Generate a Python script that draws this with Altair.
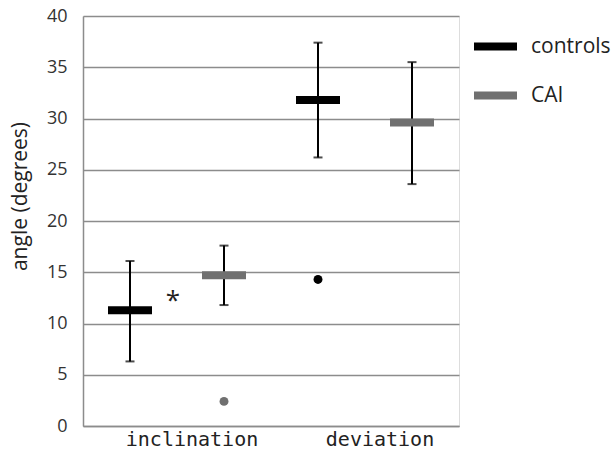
import altair as alt
import pandas as pd

categories = ["inclination", "deviation"]
groups = ["controls", "CAI"]

controls_mean = [11.3, 31.8]
controls_low = [6.3, 26.2]
controls_high = [16.1, 37.4]

cai_mean = [14.7, 29.6]
cai_low = [11.8, 23.6]
cai_high = [17.6, 35.5]

outlier_cat = ["inclination", "deviation"]
outlier_group = ["CAI", "controls"]
outlier_val = [2.4, 14.3]

sig_cat = ["inclination"]
sig_val = [12.8]
sig_text = ["*"]

rows = []
for i, c in enumerate(categories):
    rows.append(dict(cat=c, group="controls", mean=controls_mean[i], low=controls_low[i], high=controls_high[i]))
    rows.append(dict(cat=c, group="CAI", mean=cai_mean[i], low=cai_low[i], high=cai_high[i]))
df = pd.DataFrame(rows)
out_df = pd.DataFrame(dict(cat=outlier_cat, group=outlier_group, val=outlier_val))
sig_df = pd.DataFrame(dict(cat=sig_cat, val=sig_val, t=sig_text))

GRAY = "#707070"
GRID = "#8c8c8c"

xscale = alt.Scale(domain=categories, paddingInner=0, paddingOuter=0)
xoff = alt.XOffset("group:N", scale=alt.Scale(domain=groups, paddingInner=0, paddingOuter=0))
yscale = alt.Scale(domain=[0, 40])
color_scale = alt.Scale(domain=groups, range=["#000000", GRAY])

xaxis = alt.Axis(title=None, domainColor=GRID, domainWidth=1.5, ticks=False, grid=False,
                 labelFont="DejaVu Sans Mono", labelFontSize=20, labelColor="#222222",
                 labelOffset=15, labelPadding=3, labelAngle=0)
yaxis = alt.Axis(title="angle (degrees)", values=list(range(0, 41, 5)), ticks=False,
                 domainColor=GRID, domainWidth=1.5, gridColor=GRID, gridWidth=1.5,
                 labelFont="Open Sans", labelFontSize=18, labelColor="#333333", labelPadding=16,
                 titleFont="Open Sans", titleFontSize=21, titleFontWeight="normal", titleColor="#222222",
                 titleX=-53, titleY=180)

base = alt.Chart(df)

rule = base.mark_rule(color="black", strokeWidth=2).encode(
    x=alt.X("cat:N", scale=xscale, axis=xaxis, sort=categories),
    xOffset=xoff,
    y=alt.Y("low:Q", scale=yscale, axis=yaxis),
    y2="high:Q",
)
cap_low = base.mark_tick(color="black", size=9, thickness=2).encode(
    x=alt.X("cat:N", scale=xscale, sort=categories), xOffset=xoff, y=alt.Y("low:Q", scale=yscale))
cap_high = base.mark_tick(color="black", size=9, thickness=2).encode(
    x=alt.X("cat:N", scale=xscale, sort=categories), xOffset=xoff, y=alt.Y("high:Q", scale=yscale))

means = base.mark_tick(size=44, thickness=8, opacity=1).encode(
    x=alt.X("cat:N", scale=xscale, sort=categories), xOffset=xoff,
    y=alt.Y("mean:Q", scale=yscale),
    color=alt.Color("group:N", scale=color_scale, legend=alt.Legend(
        title=None, orient="none", legendX=391, legendY=9,
        symbolType="M-1,-0.186H1V0.186H-1Z", symbolSize=1849, symbolStrokeWidth=0,
        symbolOpacity=1, labelFont="Open Sans", labelFontSize=21, labelColor="#222222",
        labelOffset=14, rowPadding=17, padding=0)),
)

dots = alt.Chart(out_df).mark_point(filled=True, size=80, opacity=1).encode(
    x=alt.X("cat:N", scale=xscale, sort=categories), xOffset=xoff,
    y=alt.Y("val:Q", scale=yscale),
    color=alt.Color("group:N", scale=color_scale, legend=None),
)

star = alt.Chart(sig_df).mark_text(font="Open Sans", fontSize=26, color="#222222", baseline="middle", dx=-4, dy=6).encode(
    x=alt.X("cat:N", scale=xscale, sort=categories),
    y=alt.Y("val:Q", scale=yscale),
    text="t:N",
)

chart = alt.layer(rule, cap_low, cap_high, means, dots, star).properties(
    width=376, height=410,
    autosize=alt.AutoSizeParams(type="none"),
    padding={"left": 83, "top": 16, "right": 156, "bottom": 25},
).configure_view(stroke=None).configure(background="white")

chart.save("out.html", embed_options={"renderer": "svg", "actions": False})
